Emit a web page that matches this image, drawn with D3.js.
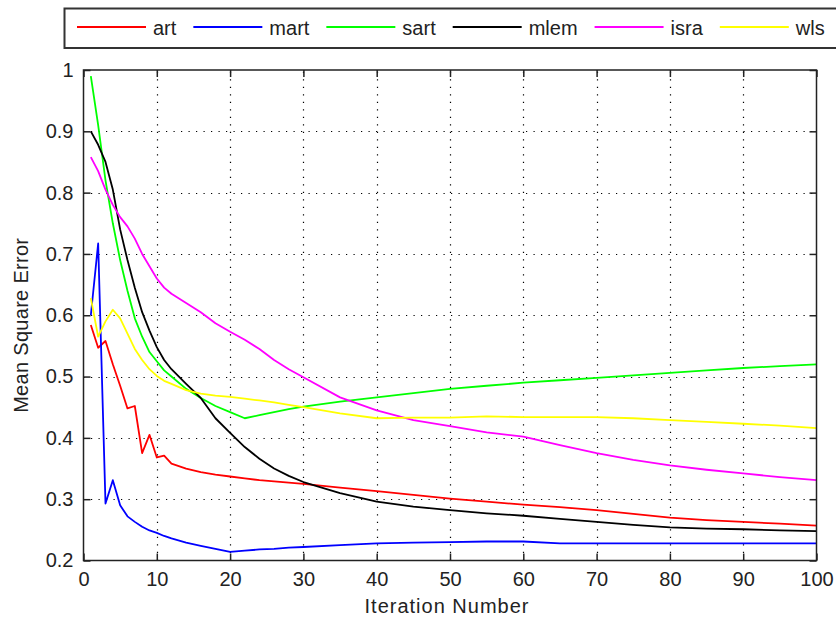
<!DOCTYPE html>
<html>
<head>
<meta charset="utf-8">
<style>
  body { margin: 0; background: #fff; }
  text { font-family: "Liberation Sans", Arial, sans-serif; }
</style>
</head>
<body>
<svg id="chart" width="836" height="619"></svg>
<script src="https://d3js.org/d3.v7.min.js"></script>
<script>

// iteration numbers where values were read
var iterations = [1, 2, 3, 4, 5, 6, 7, 8, 9, 10, 11, 12, 14, 16, 18, 20, 22, 24, 26, 28, 30,
                  35, 40, 45, 50, 55, 60, 65, 70, 75, 80, 85, 90, 95, 100];

var art  = [0.584, 0.547, 0.558, 0.520, 0.485, 0.448, 0.452, 0.375, 0.405, 0.368, 0.371, 0.358, 0.350, 0.344, 0.340, 0.337, 0.334, 0.331, 0.329, 0.327, 0.325,
            0.319, 0.313, 0.307, 0.301, 0.296, 0.291, 0.287, 0.282, 0.276, 0.270, 0.266, 0.263, 0.260, 0.257];
var mart = [0.600, 0.717, 0.293, 0.331, 0.290, 0.272, 0.263, 0.255, 0.249, 0.245, 0.240, 0.236, 0.229, 0.224, 0.219, 0.214, 0.216, 0.218, 0.219, 0.221, 0.222,
            0.225, 0.228, 0.229, 0.230, 0.231, 0.231, 0.228, 0.228, 0.228, 0.228, 0.228, 0.228, 0.228, 0.228];
var sart = [0.990, 0.910, 0.820, 0.750, 0.690, 0.640, 0.595, 0.565, 0.540, 0.525, 0.510, 0.500, 0.480, 0.465, 0.452, 0.442, 0.432, 0.437, 0.442, 0.447, 0.451,
            0.459, 0.466, 0.473, 0.480, 0.485, 0.490, 0.494, 0.498, 0.502, 0.506, 0.510, 0.514, 0.517, 0.520];
var mlem = [0.900, 0.878, 0.850, 0.805, 0.740, 0.690, 0.645, 0.605, 0.575, 0.548, 0.527, 0.512, 0.488, 0.465, 0.432, 0.408, 0.385, 0.366, 0.350, 0.338, 0.328,
            0.310, 0.296, 0.288, 0.282, 0.277, 0.273, 0.268, 0.263, 0.258, 0.254, 0.252, 0.251, 0.249, 0.248];
var isra = [0.858, 0.835, 0.805, 0.780, 0.760, 0.745, 0.725, 0.700, 0.680, 0.660, 0.645, 0.635, 0.620, 0.605, 0.587, 0.573, 0.560, 0.545, 0.527, 0.512, 0.499,
            0.466, 0.445, 0.429, 0.419, 0.409, 0.402, 0.388, 0.375, 0.364, 0.355, 0.348, 0.342, 0.336, 0.331];
var wls  = [0.628, 0.565, 0.590, 0.609, 0.595, 0.570, 0.545, 0.527, 0.512, 0.501, 0.493, 0.488, 0.478, 0.472, 0.469, 0.467, 0.464, 0.461, 0.458, 0.454, 0.450,
            0.440, 0.432, 0.433, 0.433, 0.435, 0.434, 0.434, 0.434, 0.432, 0.429, 0.426, 0.423, 0.420, 0.416];

var seriesNames = ["art", "mart", "sart", "mlem", "isra", "wls"];
var seriesColors = ["#ff0000", "#0000ff", "#00ff00", "#000000", "#ff00ff", "#ffff00"];
var seriesValues = [art, mart, sart, mlem, isra, wls];

var xTicks = [0, 10, 20, 30, 40, 50, 60, 70, 80, 90, 100];
var yTicks = [0.2, 0.3, 0.4, 0.5, 0.6, 0.7, 0.8, 0.9, 1];

var svg = d3.select("#chart"),
    plotLeft = 83.5, plotRight = 816.5, plotTop = 70, plotBottom = 560.5;

var x = d3.scaleLinear().domain([0, 100]).range([plotLeft, plotRight]);
var y = d3.scaleLinear().domain([0.2, 1]).range([plotBottom, plotTop]);

// grid
var grid = svg.append("g")
    .attr("stroke", "#000")
    .attr("stroke-width", 1.2)
    .attr("stroke-dasharray", "1.2,6.3");

grid.selectAll(".vx")
    .data(xTicks.slice(1, -1))
  .enter().append("line")
    .attr("x1", function(d) { return Math.round(x(d)) + 0.5; })
    .attr("x2", function(d) { return Math.round(x(d)) + 0.5; })
    .attr("y1", plotBottom)
    .attr("y2", plotTop);

grid.selectAll(".hy")
    .data(yTicks.slice(1, -1))
  .enter().append("line")
    .attr("y1", function(d) { return Math.round(y(d)) + 0.5; })
    .attr("y2", function(d) { return Math.round(y(d)) + 0.5; })
    .attr("x1", plotLeft)
    .attr("x2", plotRight);

// lines
var line = d3.line()
    .x(function(d) { return x(d[0]); })
    .y(function(d) { return y(d[1]); });

seriesNames.forEach(function(name, i) {
  svg.append("path")
      .datum(iterations.map(function(it, j) { return [it, seriesValues[i][j]]; }))
      .attr("fill", "none")
      .attr("stroke", seriesColors[i])
      .attr("stroke-width", 1.8)
      .attr("stroke-linejoin", "round")
      .attr("d", line);
});

// axes box with inward ticks
var axisColor = "#222";
var tickLen = 7;

svg.append("rect")
    .attr("x", plotLeft)
    .attr("y", plotTop)
    .attr("width", plotRight - plotLeft)
    .attr("height", plotBottom - plotTop)
    .attr("fill", "none")
    .attr("stroke", axisColor)
    .attr("stroke-width", 1.5);

var bottomAxis = d3.axisBottom(x).tickValues(xTicks).tickSize(-tickLen).tickPadding(tickLen + 4).tickFormat(d3.format("d"));
var topAxis = d3.axisTop(x).tickValues(xTicks).tickSize(-tickLen).tickFormat("");
var leftAxis = d3.axisLeft(y).tickValues(yTicks).tickSize(-tickLen).tickPadding(tickLen + 3).tickFormat(function(d) { return d === 1 ? "1" : d3.format(".1f")(d); });
var rightAxis = d3.axisRight(y).tickValues(yTicks).tickSize(-tickLen).tickFormat("");

function styleAxis(g) {
  g.select(".domain").remove();
  g.selectAll(".tick line").attr("stroke", axisColor).attr("stroke-width", 1.5);
  g.selectAll(".tick text")
      .attr("fill", "#222")
      .style("font-family", "'Liberation Sans', Arial, sans-serif")
      .style("font-size", "20px");
}

svg.append("g").attr("transform", "translate(0," + plotBottom + ")").call(bottomAxis).call(styleAxis);
svg.append("g").attr("transform", "translate(0," + plotTop + ")").call(topAxis).call(styleAxis);
svg.append("g").attr("transform", "translate(" + plotLeft + ",0)").call(leftAxis).call(styleAxis);
svg.append("g").attr("transform", "translate(" + plotRight + ",0)").call(rightAxis).call(styleAxis);

// axis titles
svg.append("text")
    .attr("x", (plotLeft + plotRight) / 2 - 3)
    .attr("y", 613)
    .attr("text-anchor", "middle")
    .attr("fill", "#222")
    .style("font-size", "20px")
    .style("letter-spacing", "1px")
    .text("Iteration Number");

svg.append("text")
    .attr("transform", "translate(28," + ((plotTop + plotBottom) / 2 + 10) + ") rotate(-90)")
    .attr("text-anchor", "middle")
    .attr("fill", "#222")
    .style("font-size", "20px")
    .style("letter-spacing", "0.3px")
    .text("Mean Square Error");

// legend
var legend = svg.append("g");

legend.append("rect")
    .attr("x", 64.5)
    .attr("y", 8.5)
    .attr("width", 790)
    .attr("height", 39.5)
    .attr("fill", "#fff")
    .attr("stroke", "#333")
    .attr("stroke-width", 2);

var lx = 77;
seriesNames.forEach(function(name, i) {
  legend.append("line")
      .attr("x1", lx)
      .attr("x2", lx + 69)
      .attr("y1", 27)
      .attr("y2", 27)
      .attr("stroke", seriesColors[i])
      .attr("stroke-width", 1.8);
  var t = legend.append("text")
      .attr("x", lx + 76)
      .attr("y", 35)
      .attr("fill", "#222")
      .style("font-size", "20px")
      .text(name);
  lx += 76 + t.node().getComputedTextLength() + 17;
});

</script>
</body>
</html>
